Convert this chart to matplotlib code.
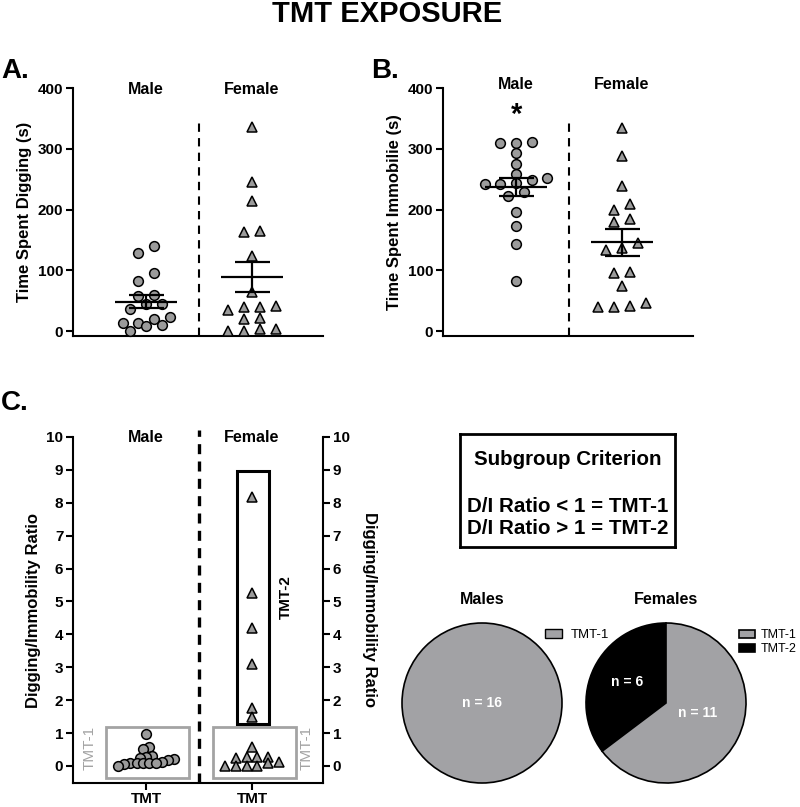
import numpy as np
import matplotlib
matplotlib.use("Agg")
import matplotlib.pyplot as plt
from matplotlib.patches import Patch, Rectangle

plt.rcParams['font.family'] = ['Liberation Sans', 'DejaVu Sans']
plt.rcParams['font.weight'] = 'bold'
plt.rcParams['axes.labelweight'] = 'bold'

# ---------------- DATA ----------------
groups = ["Male", "Female"]

male_dig = [140, 129, 95, 82, 60, 58, 44, 44, 37, 24, 20, 14, 14, 10, 9, 0]
female_dig = [336, 245, 214, 165, 163, 123, 64, 42, 40, 40, 35, 22, 20, 4, 3, 0, 0]

male_imm = [311, 310, 309, 293, 275, 259, 252, 248, 244, 242, 242, 229, 222, 196, 173, 143, 82]
female_imm = [334, 288, 238, 209, 200, 184, 179, 145, 137, 133, 97, 95, 74, 47, 41, 40, 40]

male_ratio = [0.97, 0.57, 0.51, 0.30, 0.26, 0.23, 0.20, 0.18, 0.13, 0.08, 0.08, 0.08, 0.08, 0.08, 0.06, 0.0]
female_ratio = [8.17, 5.25, 4.2, 3.09, 1.75, 1.48, 0.57, 0.26, 0.26, 0.26, 0.23, 0.13, 0.1, 0.0, 0.0, 0.0, 0.0]

pie_male_labels = ["TMT-1"]
pie_male_counts = [16]
pie_female_labels = ["TMT-2", "TMT-1"]
pie_female_counts = [6, 11]

# ---------------- STYLE ----------------
W, H = 800, 807
GRAY = "#9b9b9b"
PIE_GRAY = "#a2a2a5"
BOX_GRAY = "#a3a3a3"
TICK_FS = 11
LAB_FS = 12
HEAD_FS = 11.5

fig = plt.figure(figsize=(W / 100, H / 100), dpi=100)


def frac(x0, y0, x1, y1):
    """pixel box (top-left origin) -> figure fraction rect"""
    return [x0 / W, 1 - y1 / H, (x1 - x0) / W, (y1 - y0) / H]


def swarm(ax, values, step_px, min_dy_px):
    """row-style beeswarm (like prism): points closer than min_dy_px
    share a row, each row is spread symmetrically around the centre"""
    to_px = ax.transData.transform
    px_x = to_px((1, 0))[0] - to_px((0, 0))[0]
    ys = np.array([to_px((0, v))[1] for v in values])
    order = np.argsort(values, kind="stable")
    offs = np.zeros(len(values))
    rows, cur = [], [order[0]]
    for i in order[1:]:
        if ys[i] - ys[cur[0]] < min_dy_px:
            cur.append(i)
        else:
            rows.append(cur)
            cur = [i]
    rows.append(cur)
    for row in rows:
        n = len(row)
        for j, i in enumerate(row):
            offs[i] = (j - (n - 1) / 2) * step_px / px_x
    return offs


def style_axes(ax):
    for s in ["top", "right"]:
        ax.spines[s].set_visible(False)
    for s in ["left", "bottom"]:
        ax.spines[s].set_linewidth(1.5)
    ax.tick_params(axis="y", width=1.5, length=5, labelsize=TICK_FS, pad=2)
    ax.set_xlim(0.31, 2.67)


def scatter_group(ax, vals, xc, marker, step_px, min_dy_px, ms):
    offs = swarm(ax, vals, step_px, min_dy_px)
    ax.plot(xc + offs, vals, linestyle="none", marker=marker, ms=ms,
            mfc=GRAY, mec="black", mew=1.1, zorder=3, clip_on=False)


def mean_sem(ax, vals, xc):
    v = np.asarray(vals, float)
    m = v.mean()
    sem = v.std(ddof=1) / np.sqrt(len(v))
    ax.hlines(m, xc - 0.29, xc + 0.29, color="black", lw=1.6, zorder=4)
    ax.hlines([m - sem, m + sem], xc - 0.165, xc + 0.165, color="black", lw=1.6, zorder=4)
    ax.vlines(xc, m - sem, m + sem, color="black", lw=1.6, zorder=4)


# ---------------- PANEL A ----------------
axA = fig.add_axes(frac(73, 88, 323, 336))
style_axes(axA)
axA.set_ylim(-8, 400)
axA.set_yticks([0, 100, 200, 300, 400])
axA.set_xticks([])
axA.set_ylabel("Time Spent Digging (s)", fontsize=LAB_FS, labelpad=4)
scatter_group(axA, male_dig, 1, "o", 15.7, 8.5, 7)
scatter_group(axA, female_dig, 2, "^", 15.7, 8.5, 7.5)
mean_sem(axA, male_dig, 1)
mean_sem(axA, female_dig, 2)
axA.vlines(1.5, -8, 349, color="black", lw=1.5, linestyles=(0, (4, 3)))
for i, g in enumerate(groups):
    axA.text(i + 1, 398, g, ha="center", va="center", fontsize=HEAD_FS)

# ---------------- PANEL B ----------------
axB = fig.add_axes(frac(443, 88, 693, 336))
style_axes(axB)
axB.set_ylim(-8, 400)
axB.set_yticks([0, 100, 200, 300, 400])
axB.set_xticks([])
axB.set_ylabel("Time Spent Immobilie (s)", fontsize=LAB_FS, labelpad=4)
scatter_group(axB, male_imm, 1, "o", 15.7, 8.5, 7)
scatter_group(axB, female_imm, 2, "^", 15.7, 8.5, 7.5)
mean_sem(axB, male_imm, 1)
mean_sem(axB, female_imm, 2)
axB.vlines(1.5, -8, 349, color="black", lw=1.5, linestyles=(0, (4, 3)))
for i, g in enumerate(groups):
    axB.text(i + 1, 406, g, ha="center", va="center", fontsize=HEAD_FS)
axB.text(1, 356, "*", ha="center", va="center", fontsize=21)

# ---------------- PANEL C ----------------
axC = fig.add_axes(frac(73, 437, 323, 783))
style_axes(axC)
axC.set_ylim(-0.52, 10)
axC.set_yticks(range(0, 11))
axC.set_xticks([1, 2])
axC.set_xticklabels(["TMT", "TMT"], fontsize=11)
axC.tick_params(axis="x", width=1.5, length=5, pad=1.5)
axC.set_ylabel("Digging/Immobility Ratio", fontsize=LAB_FS, labelpad=4)
axR = axC.twinx()
axR.set_ylim(-0.52, 10)
axR.set_yticks(range(0, 11))
for s in ["top", "left", "bottom"]:
    axR.spines[s].set_visible(False)
axR.spines["right"].set_linewidth(1.5)
axR.tick_params(axis="y", width=1.5, length=5, labelsize=TICK_FS, pad=2)
axR.set_ylabel("Digging/Immobility Ratio", fontsize=LAB_FS, rotation=270, labelpad=20)

scatter_group(axC, male_ratio, 1, "o", 6.3, 7.5, 7)
scatter_group(axC, female_ratio, 2, "^", 10.7, 7.5, 7.5)
axC.vlines(1.5, -0.52, 10.2, color="black", lw=2.4, linestyles=(0, (3, 2.2)), clip_on=False)
for i, g in enumerate(groups):
    axC.text(i + 1, 10, g, ha="center", va="center", fontsize=HEAD_FS)

axC.add_patch(Rectangle((0.622, -0.36), 0.783, 1.55, fill=False, ec=BOX_GRAY, lw=2))
axC.add_patch(Rectangle((1.632, -0.36), 0.783, 1.55, fill=False, ec=BOX_GRAY, lw=2))
axC.add_patch(Rectangle((1.858, 1.28), 0.302, 7.69, fill=False, ec="black", lw=2.2))
axC.text(0.47, 0.55, "TMT-1", rotation=90, ha="center", va="center",
         color=BOX_GRAY, fontsize=11, fontweight="normal")
axC.text(2.52, 0.55, "TMT-1", rotation=90, ha="center", va="center",
         color=BOX_GRAY, fontsize=11, fontweight="normal")
axC.text(2.32, 5.14, "TMT-2", rotation=90, ha="center", va="center", fontsize=11)

# ---------------- CRITERION BOX ----------------
axT = fig.add_axes(frac(460, 434, 675, 547))
axT.set_xticks([])
axT.set_yticks([])
for s in axT.spines.values():
    s.set_linewidth(2)
fig.text(568 / W, 1 - 459 / H, "Subgroup Criterion", ha="center", va="center", fontsize=14.8)
fig.text(568 / W, 1 - 506 / H, "D/I Ratio < 1 = TMT-1", ha="center", va="center", fontsize=14.8)
fig.text(568 / W, 1 - 528 / H, "D/I Ratio > 1 = TMT-2", ha="center", va="center", fontsize=14.8)

# ---------------- PIES ----------------
axPM = fig.add_axes(frac(400, 621, 564, 785))
wedges, _ = axPM.pie(pie_male_counts, colors=[PIE_GRAY], radius=1, startangle=90,
                     wedgeprops=dict(edgecolor="black", linewidth=1.2))
axPM.set_xlim(-1.025, 1.025)
axPM.set_ylim(-1.025, 1.025)
axPM.text(0, 0, f"n = {pie_male_counts[0]}", color="white", ha="center", va="center", fontsize=10)
axPM.legend([Patch(fc=PIE_GRAY, ec="black", lw=1)], pie_male_labels, loc="upper left",
            bbox_to_anchor=(540 / W, 1 - 624 / H), bbox_transform=fig.transFigure,
            frameon=False, prop=dict(size=9.5, weight="normal"),
            handlelength=1.3, handleheight=0.6, handletextpad=0.6, borderaxespad=0)

axPF = fig.add_axes(frac(584, 621, 748, 785))
wedgesF, _ = axPF.pie(pie_female_counts, colors=["black", PIE_GRAY], radius=1, startangle=90,
                      wedgeprops=dict(edgecolor="black", linewidth=1.2))
axPF.set_xlim(-1.025, 1.025)
axPF.set_ylim(-1.025, 1.025)
axPF.text(-0.48, 0.26, f"n = {pie_female_counts[0]}", color="white", ha="center", va="center", fontsize=10)
axPF.text(0.39, -0.13, f"n = {pie_female_counts[1]}", color="white", ha="center", va="center", fontsize=10)
axPF.legend([wedgesF[1], wedgesF[0]], [pie_female_labels[1], pie_female_labels[0]], loc="upper left",
            bbox_to_anchor=(734 / W, 1 - 624 / H), bbox_transform=fig.transFigure,
            frameon=False, prop=dict(size=9, weight="normal"),
            handlelength=1.3, handleheight=0.6, handletextpad=0.45, borderaxespad=0,
            labelspacing=0.2)
fig.text(482 / W, 1 - 599 / H, "Males", ha="center", va="center", fontsize=HEAD_FS)
fig.text(666 / W, 1 - 599 / H, "Females", ha="center", va="center", fontsize=HEAD_FS)

# ---------------- TITLES ----------------
fig.text(387 / W, 1 - 14 / H, "TMT EXPOSURE", ha="center", va="center", fontsize=21)
fig.text(1 / W, 1 - 71 / H, "A.", ha="left", va="center", fontsize=20)
fig.text(371 / W, 1 - 71 / H, "B.", ha="left", va="center", fontsize=20)
fig.text(1 / W, 1 - 403 / H, "C.", ha="left", va="center", fontsize=20)

fig.savefig("out.png", dpi=100)
